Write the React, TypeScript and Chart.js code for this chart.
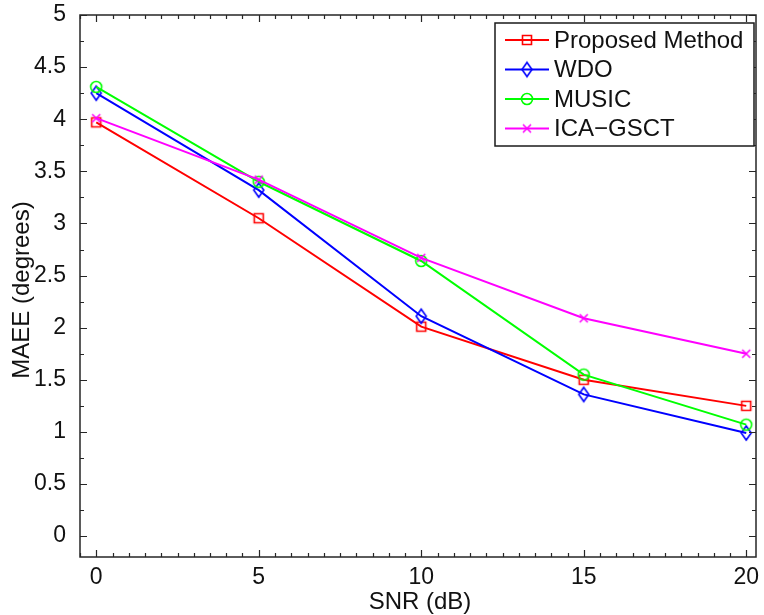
import React, { useEffect, useRef } from "react";
import { Chart, registerables } from "chart.js";

Chart.register(...registerables);

// ---- data ----
const snr = [0, 5, 10, 15, 20];
const proposed = [3.97, 3.05, 2.01, 1.5, 1.25];
const wdo = [4.25, 3.32, 2.11, 1.36, 0.99];
const music = [4.31, 3.4, 2.64, 1.55, 1.07];
const icaGsct = [4.01, 3.42, 2.67, 2.09, 1.75];
const seriesNames = ["Proposed Method", "WDO", "MUSIC", "ICA\u2212GSCT"];
const xTicks = [0, 5, 10, 15, 20];
const yTicks = [0, 0.5, 1, 1.5, 2, 2.5, 3, 3.5, 4, 4.5, 5];
const xTitle = "SNR (dB)";
const yTitle = "MAEE (degrees)";

// ---- style ----
const colors = ["#ff0000", "#0000ff", "#00ff00", "#ff00ff"];
const FONT = "'Liberation Sans', Arial, sans-serif";
const FS = 23;
const FS_LABEL = 24;
const TEXT = "#111111";

function makeMarker(kind: string, color: string): HTMLCanvasElement {
  const c = document.createElement("canvas");
  c.width = 20;
  c.height = 20;
  const g = c.getContext("2d")!;
  g.strokeStyle = color;
  g.lineWidth = 1.6;
  const m = 10;
  g.beginPath();
  if (kind === "square") {
    g.rect(m - 4.5, m - 4.5, 9, 9);
  } else if (kind === "diamond") {
    g.moveTo(m, m - 7);
    g.lineTo(m + 5, m);
    g.lineTo(m, m + 7);
    g.lineTo(m - 5, m);
    g.closePath();
  } else if (kind === "circle") {
    g.arc(m, m, 5.5, 0, Math.PI * 2);
  } else {
    g.moveTo(m - 4, m - 4);
    g.lineTo(m + 4, m + 4);
    g.moveTo(m + 4, m - 4);
    g.lineTo(m - 4, m + 4);
  }
  g.stroke();
  return c;
}

export default function App() {
  const ref = useRef<HTMLCanvasElement | null>(null);

  useEffect(() => {
    if (!ref.current) return;
    const markers = [
      makeMarker("square", colors[0]),
      makeMarker("diamond", colors[1]),
      makeMarker("circle", colors[2]),
      makeMarker("x", colors[3]),
    ];
    const seriesVals = [proposed, wdo, music, icaGsct];

    const framePlugin = {
      id: "framePlugin",
      afterDraw(chart: any) {
        const { ctx, chartArea: a, scales } = chart;
        const xs = scales.x;
        const ys = scales.y;
        ctx.save();
        // box
        ctx.strokeStyle = "#262626";
        ctx.lineWidth = 1.5;
        ctx.strokeRect(a.left, a.top, a.right - a.left, a.bottom - a.top);
        // inward ticks
        ctx.lineWidth = 1.2;
        ctx.beginPath();
        for (let v = -0.5; v <= xs.max + 1e-9; v += 0.5) {
          const px = Math.round(xs.getPixelForValue(v)) + 0.5;
          const major = Math.abs(v % 5) < 1e-9;
          const len = major ? 7 : 4;
          ctx.moveTo(px, a.bottom);
          ctx.lineTo(px, a.bottom - len);
          ctx.moveTo(px, a.top);
          ctx.lineTo(px, a.top + len);
        }
        for (let v = 0; v <= ys.max + 1e-9; v += 0.25) {
          const py = Math.round(ys.getPixelForValue(v)) + 0.5;
          const major = Math.abs((v * 2) % 1) < 1e-9;
          const len = major ? 7 : 4;
          ctx.moveTo(a.left, py);
          ctx.lineTo(a.left + len, py);
          ctx.moveTo(a.right, py);
          ctx.lineTo(a.right - len, py);
        }
        ctx.stroke();

        // legend
        const lw = 259;
        const lh = 123;
        const lx = a.right - 2 - lw;
        const ly = a.top + 8;
        ctx.fillStyle = "#ffffff";
        ctx.fillRect(lx, ly, lw, lh);
        ctx.strokeStyle = "#1a1a1a";
        ctx.lineWidth = 1.5;
        ctx.strokeRect(lx, ly, lw, lh);
        ctx.font = `${FS_LABEL}px ${FONT}`;
        ctx.textBaseline = "middle";
        ctx.textAlign = "left";
        seriesNames.forEach((name, i) => {
          const ry = ly + 17 + i * 29.5;
          ctx.strokeStyle = colors[i];
          ctx.lineWidth = 2;
          ctx.beginPath();
          ctx.moveTo(lx + 10, ry);
          ctx.lineTo(lx + 54, ry);
          ctx.stroke();
          const mk = markers[i];
          ctx.drawImage(mk, lx + 32 - mk.width / 2, ry - mk.height / 2);
          ctx.fillStyle = TEXT;
          ctx.fillText(name, lx + 59, ry + 1);
        });

        // axis titles
        ctx.fillStyle = TEXT;
        ctx.font = `${FS_LABEL}px ${FONT}`;
        ctx.textAlign = "center";
        ctx.textBaseline = "middle";
        ctx.fillText(xTitle, (a.left + a.right) / 2 + 2, 602);
        ctx.save();
        ctx.translate(22, (a.top + a.bottom) / 2 + 4);
        ctx.rotate(-Math.PI / 2);
        ctx.fillText(yTitle, 0, 0);
        ctx.restore();
        ctx.restore();
      },
    };

    const chart = new Chart(ref.current, {
      type: "line",
      data: {
        datasets: seriesVals.map((vals, i) => ({
          label: seriesNames[i],
          data: snr.map((x, j) => ({ x, y: vals[j] })),
          borderColor: colors[i],
          backgroundColor: colors[i],
          borderWidth: 2,
          pointStyle: markers[i] as any,
          pointRadius: 6,
          fill: false,
          tension: 0,
          order: 4 - i,
        })),
      },
      options: {
        animation: false,
        responsive: false,
        layout: { padding: { top: 15, right: 4, left: 0, bottom: 0 } },
        plugins: {
          legend: { display: false },
          tooltip: { enabled: false },
        },
        scales: {
          x: {
            type: "linear",
            min: -0.5,
            max: 20.3,
            grid: { display: false },
            border: { display: false },
            afterBuildTicks: (s: any) => {
              s.ticks = xTicks.map((v) => ({ value: v }));
            },
            afterFit: (s: any) => {
              s.height = 58;
              s.paddingLeft = 0;
              s.paddingRight = 0;
              s.paddingTop = 0;
              s.paddingBottom = 0;
            },
            ticks: {
              font: { size: FS, family: FONT, lineHeight: 1 },
              color: TEXT,
              padding: 1,
              maxRotation: 0,
              autoSkip: false,
              callback: (v: any) => String(v),
            },
          },
          y: {
            type: "linear",
            min: -0.2,
            max: 5,
            grid: { display: false },
            border: { display: false },
            afterBuildTicks: (s: any) => {
              s.ticks = yTicks.map((v) => ({ value: v }));
            },
            afterFit: (s: any) => {
              s.width = 80;
              s.paddingLeft = 0;
              s.paddingRight = 0;
              s.paddingTop = 0;
              s.paddingBottom = 0;
            },
            ticks: {
              font: { size: FS, family: FONT, lineHeight: 1 },
              color: TEXT,
              padding: 6,
              autoSkip: false,
              callback: (v: any) => String(v),
            },
          },
        },
      },
      plugins: [framePlugin],
    });
    return () => chart.destroy();
  }, []);

  return (
    <div style={{ position: "absolute", left: 0, top: 0, width: 764, height: 615, background: "#fff" }}>
      <canvas ref={ref} width={764} height={615} />
    </div>
  );
}
